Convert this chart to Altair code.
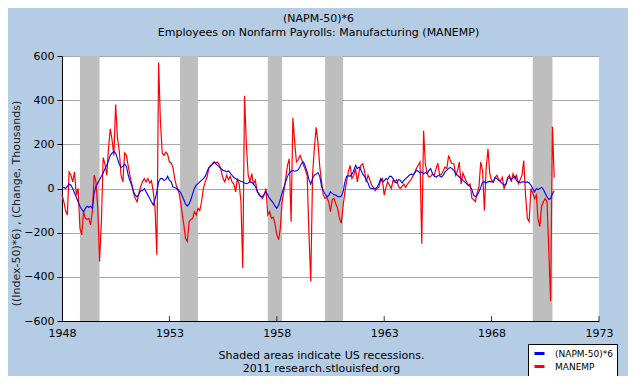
import altair as alt
import pandas as pd

# ---- data (monthly, Jan 1948 .. Dec 1970) ----
start_month = "1948-01-01"
n_months = 276

napm_1948_1959 = [
    5, 5, 0, 10, 20, 15, 0, -20, -40, -60, -80, -95,
    -105, -90, -80, -85, -80, -90, -20, 10, 25, 40, 55, 70,
    90, 105, 125, 150, 160, 168, 160, 135, 110, 95, 100, 110,
    100, 60, 35, 15, -15, -30, -38, -25, -10, -10, 0, -15,
    -30, -45, -60, -75, -50, -15, 30, 45, 45, 37, 40, 55,
    37, 30, 7, 5, 0, -8, -15, -30, -50, -70, -80, -70,
    -50, -22, 0, 15, 22, 30, 37, 45, 55, 75, 95, 100,
    112, 120, 112, 105, 97, 90, 82, 80, 75, 80, 70, 60,
    50, 45, 40, 37, 32, 30, 25, 22, 25, 30, 28, 20,
    10, -10, -28, -35, -37, -25, -15, -30, -45, -55, -65, -80,
    -90, -75, -50, -20, 5, 30, 55, 70, 78, 82, 78, 80,
    85, 100, 115, 120, 100, 75, 40, 20, 45, 60, 65, 72,
]
napm_1960_1970 = [
    55, 10, -10, -25, -37, -32, -15, -22, -28, -30, -37, -37,
    -35, -15, 25, 55, 58, 55, 65, 80, 105, 90, 97, 85,
    65, 55, 40, 25, 3, 0, 0, 0, 5, 20, 45, 30,
    35, 45, 40, 55, 55, 45, 30, 25, 40, 38, 25, 37,
    45, 52, 60, 65, 63, 70, 82, 78, 70, 75, 67, 72,
    68, 82, 90, 68, 55, 52, 58, 58, 52, 60, 75, 82,
    92, 95, 90, 82, 67, 60, 52, 45, 37, 30, 22, 15,
    10, -5, -30, -37, -30, -15, 5, 28, 30, 25, 30, 32,
    30, 30, 50, 45, 37, 30, 22, 15, 20, 45, 50, 40,
    50, 55, 35, 30, 25, 30, 30, 28, 30, 25, 15, 0,
    -15, 0, -5, 0, 5, -5, -22, -37, -50, -45, -25, -10,
]
manemp_1948_1959 = [
    -30, -60, -100, -120, 75, 60, 30, 75, -30, 0, -180, -210,
    -105, -135, -140, -135, -165, -100, 60, 30, -90, -330, -150, 140,
    110, 60, 180, 270, 220, 150, 380, 230, 170, 60, 30, 160,
    150, 100, 60, 20, -20, -45, -60, -20, 10, 30, 45, 30,
    45, 25, 35, -15, -90, -300, 570, 300, 160, 150, 165, 155,
    120, 115, 95, 45, 10, -5, -45, -105, -160, -225, -240, -150,
    -140, -135, -105, -120, -90, -100, -60, 0, 30, 50, 90, 105,
    110, 120, 115, 120, 105, 80, 45, 30, 60, 40, 55, 30,
    20, -15, 45, 20, -60, -360, 420, 200, 60, 30, 67, 20,
    37, -15, -22, -37, -45, -30, 0, -120, -105, -135, -130, -160,
    -210, -232, -180, -60, -10, 45, 105, 135, -150, 320, 210, 120,
    130, 150, 130, 105, 85, 60, -200, -420, 60, 180, 277, 210,
]
manemp_1960_1970 = [
    100, 30, -30, -45, -40, -60, -105, -50, -45, -70, -90, -135,
    -157, -80, -20, 30, 75, 105, 45, 60, 90, 30, 75, 105,
    112, 80, 30, 60, 40, 15, 5, -10, 0, 5, 37, 45,
    -30, 5, 30, 15, 0, 37, 30, 40, 10, 0, 10, 20,
    5, 20, 30, 40, 55, 70, 90, 105, 120, -250, 262, 110,
    67, 52, 55, 65, 60, 90, 115, 60, 65, 80, 97, 90,
    150, 125, 112, 112, 60, 80, 120, 20, 70, 50, 30, 15,
    20, -45, -50, -60, -20, 10, 120, 80, -100, 90, 180, 70,
    37, 30, 50, 60, 40, 35, 50, 0, 20, 50, 60, 30,
    67, 45, 60, 22, 40, 60, 127, -30, -135, -150, 0, -20,
    -45, -30, -140, -172, -80, -60, -45, -60, -285, -510, 280, 50,
]

series_names = ["(NAPM-50)*6", "MANEMP"]
series_colors = ["#0000FF", "#FF0000"]

rec_start = ["1948-11-01", "1953-07-01", "1957-08-01", "1960-04-01", "1969-12-01"]
rec_end = ["1949-10-01", "1954-05-01", "1958-04-01", "1961-02-01", "1970-11-01"]

tick_years = [1948, 1953, 1958, 1963, 1968, 1973]
inner_tick_dates = ["1953-01-01", "1958-01-01", "1963-01-01", "1968-01-01", "1973-01-01"]
y_ticks = [-600, -400, -200, 0, 200, 400, 600]

# ---- tables ----
dates = pd.date_range(start_month, periods=n_months, freq="MS")
napm = napm_1948_1959 + napm_1960_1970
manemp = manemp_1948_1959 + manemp_1960_1970
long_df = pd.concat([
    pd.DataFrame({"date": dates, "value": napm, "series": series_names[0]}),
    pd.DataFrame({"date": dates, "value": manemp, "series": series_names[1]}),
])
rec_df = pd.DataFrame({"start": pd.to_datetime(rec_start), "end": pd.to_datetime(rec_end)})
tick_df = pd.DataFrame({"date": pd.to_datetime(inner_tick_dates)})

FONT = "DejaVu Sans"

x_scale = alt.Scale(domain=[alt.DateTime(year=1948, month=1, date=1),
                            alt.DateTime(year=1973, month=1, date=1)])
y_scale = alt.Scale(domain=[-600, 600], nice=False, zero=False)
color_scale = alt.Scale(domain=series_names, range=series_colors)

x_axis = alt.Axis(
    values=[alt.DateTime(year=y, month=1, date=1) for y in tick_years],
    format="%Y", grid=False, tickSize=0, labelPadding=6,
    labelFontSize=11, labelColor="black", labelFont=FONT,
    domainColor="black", labelFlush=False,
    title=["Shaded areas indicate US recessions.", "2011 research.stlouisfed.org"],
    titleFontSize=11, titleFontWeight="normal", titleFont=FONT, titleColor="black",
    titleX=259, titleY=28, titleBaseline="top", titleAlign="center", titleLineHeight=13,
)
y_axis = alt.Axis(
    values=y_ticks, tickSize=5, tickColor="black", labelPadding=3,
    labelFontSize=11, labelColor="black", labelFont=FONT,
    domainColor="black", gridColor="#A8A8A8", grid=True,
    title="((Index-50)*6) , (Change, Thousands)",
    titleFontSize=11, titleFontWeight="normal", titleFont=FONT, titleColor="#222222",
    titleX=-46, titleY=147, titleAngle=270, titleAlign="center", titleBaseline="middle",
)

rec = alt.Chart(rec_df).mark_rect(color="#BEBEBE").encode(
    x=alt.X("start:T", scale=x_scale, axis=x_axis),
    x2="end:T",
)

ticks = alt.Chart(tick_df).mark_rule(color="#333333", strokeWidth=1).encode(
    x=alt.X("date:T", scale=x_scale),
    y=alt.datum(-600, scale=y_scale),
    y2=alt.datum(-578),
)

legend = alt.Legend(
    title=None, orient="none", legendX=466, legendY=288,
    fillColor="white", strokeColor="black", padding=3,
    symbolType="stroke", symbolSize=100, symbolStrokeWidth=3,
    labelFontSize=9, labelFont=FONT, labelColor="black", labelOffset=9,
    rowPadding=0, symbolOffset=2, labelLimit=200,
)

red = alt.Chart(long_df).transform_filter(
    alt.datum.series == series_names[1]
).mark_line(strokeWidth=1.2).encode(
    x=alt.X("date:T", scale=x_scale),
    y=alt.Y("value:Q", scale=y_scale, axis=y_axis),
    color=alt.Color("series:N", scale=color_scale, legend=legend),
)

blue = alt.Chart(long_df).transform_filter(
    alt.datum.series == series_names[0]
).mark_line(strokeWidth=1.1).encode(
    x=alt.X("date:T", scale=x_scale),
    y=alt.Y("value:Q", scale=y_scale),
    color=alt.Color("series:N", scale=color_scale, legend=legend),
)

chart = alt.layer(rec, ticks, red, blue).properties(
    width=537, height=265,
    padding={"left": 54, "top": 48, "right": 29, "bottom": 55},
    autosize=alt.AutoSizeParams(type="none"),
    title=alt.TitleParams(
        text=["(NAPM-50)*6", "Employees on Nonfarm Payrolls: Manufacturing (MANEMP)"],
        fontSize=11, fontWeight="normal", font=FONT, color="black",
        anchor="middle", dx=-12, offset=12, lineHeight=14,
    ),
).configure(background="#B4CCE4").configure_view(stroke=None, fill="white")

chart.save("out.html", embed_options={"renderer": "svg", "actions": False})
